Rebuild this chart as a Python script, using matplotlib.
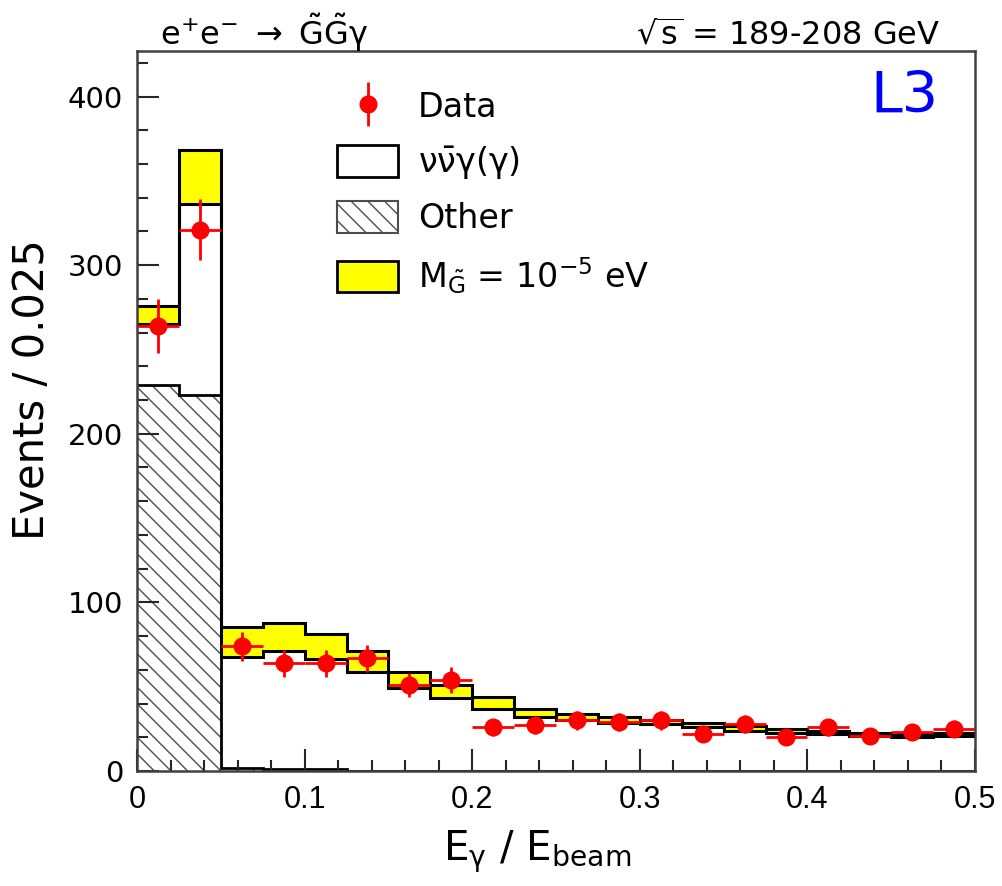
import numpy as np
import matplotlib
matplotlib.use("Agg")
import matplotlib.pyplot as plt
from matplotlib.patches import Patch
from matplotlib.legend_handler import HandlerErrorbar

plt.rcParams['font.family'] = ['DejaVu Sans']
plt.rcParams['mathtext.fontset'] = 'dejavusans'
plt.rcParams['mathtext.default'] = 'regular'
plt.rcParams['hatch.linewidth'] = 1.0

# bins of E_gamma / E_beam, width 0.025
edges = np.linspace(0, 0.5, 21)

# measured events
data = [264, 321, 74, 64, 64, 67, 51, 54, 26, 27,
        30, 29, 30, 22, 28, 20, 26, 21, 23, 25]
data_err = [16, 18, 8.5, 8, 8, 8, 7, 7.5, 5, 5.2,
            5.5, 5.4, 5.5, 4.7, 5.3, 4.5, 5, 4.6, 4.8, 5]

# expectations
other = [229, 223, 2, 1, 1, 0, 0, 0, 0, 0,
         0, 0, 0, 0, 0, 0, 0, 0, 0, 0]
nunugg = [36, 113, 65.5, 70, 65.5, 58.5, 49.5, 43.5, 37, 32,
          30, 28.5, 28, 26, 24, 22.8, 21.8, 20.5, 20, 20.5]
gravitino = [11, 32, 18, 17, 14.5, 12.5, 9, 7.5, 7, 5,
             4, 3.5, 2.5, 2.6, 2.6, 2.2, 2.2, 1.8, 1.8, 1.8]

other = np.array(other, dtype=float)
bkg = other + np.array(nunugg)
tot = bkg + np.array(gravitino)
centers = 0.5 * (edges[:-1] + edges[1:])

fig = plt.figure(figsize=(10.02, 8.86), dpi=100)
ax = fig.add_axes([137/1002, 1-771/886, 838/1002, 720/886])

# hatched "other"
ax.stairs(other, edges, fill=True, facecolor='white', edgecolor='0.3',
          hatch='\\\\', linewidth=0)
# yellow signal on top of background
ax.stairs(tot, edges, baseline=bkg, fill=True, color='yellow', linewidth=0)
ax.stairs(other, edges, color='black', linewidth=2, baseline=None)
ax.stairs(bkg, edges, color='black', linewidth=2.2, baseline=None)
ax.stairs(tot, edges, color='black', linewidth=2.2, baseline=None)

ax.errorbar(centers, data, yerr=data_err, xerr=0.0125, fmt='o', color='red',
            markersize=12, elinewidth=2, capsize=0, zorder=5)

ax.set_xlim(0, 0.5)
ax.set_ylim(0, 427)
ax.set_xticks([0, 0.1, 0.2, 0.3, 0.4, 0.5])
ax.set_xticklabels(['0', '0.1', '0.2', '0.3', '0.4', '0.5'],
                   family='Liberation Sans', fontsize=22)
ax.set_xticks(np.arange(0, 0.5, 0.02), minor=True)
ax.set_yticks([0, 100, 200, 300, 400])
ax.set_yticklabels(['0', '100', '200', '300', '400'], fontsize=21)
ax.set_yticks(np.arange(0, 427, 20), minor=True)
ax.tick_params(which='both', direction='in', top=False, right=False,
               width=1.5, color='0.15')
ax.tick_params(which='major', length=16, pad=10)
ax.tick_params(which='minor', length=8)
for sp in ax.spines.values():
    sp.set_linewidth(1.8)
    sp.set_color('0.25')

ax.set_xlabel(r'E$_{\gamma}$ / E$_{\rm beam}$', fontsize=29)
ax.xaxis.set_label_coords(0.478, -0.080)
ax.set_ylabel('Events / 0.025', fontsize=30)
ax.yaxis.set_label_coords(-0.100, 0.529)

fig.text(160/1002, 1-45/886,
         r'e$^{+}$e$^{-}$ $\rightarrow$ $\tilde{\rm G}\tilde{\rm G}\gamma$',
         fontsize=23, va='baseline', ha='left')
fig.text(940/1002, 1-45/886, r'$\sqrt{\rm s}$ = 189-208 GeV',
         fontsize=23, va='baseline', ha='right')
fig.text(938/1002, 1-70/886, 'L3', fontsize=41, color='blue', ha='right', va='top')

h_data = ax.errorbar([], [], yerr=[], fmt='o', color='red', markersize=12,
                     elinewidth=2, capsize=0)
h_nu = Patch(facecolor='white', edgecolor='black', linewidth=2)
h_oth = Patch(facecolor='white', edgecolor='0.3', hatch='\\\\', linewidth=1.5)
h_sig = Patch(facecolor='yellow', edgecolor='black', linewidth=2)
leg = ax.legend([h_data, h_nu, h_oth, h_sig],
                ['Data', r'$\nu\bar{\nu}\gamma(\gamma)$', 'Other',
                 r'M$_{\tilde{\rm G}}$ = 10$^{-5}$ eV'],
                loc='upper left', bbox_to_anchor=(337/1002, 1-90/886),
                bbox_transform=fig.transFigure, frameon=False, fontsize=24,
                handlelength=1.83, handleheight=1.08, labelspacing=0.6,
                handletextpad=0.6, borderpad=0, borderaxespad=0,
                handler_map={type(h_data): HandlerErrorbar(xerr_size=0.66)})

fig.savefig('out.png', dpi=100)
